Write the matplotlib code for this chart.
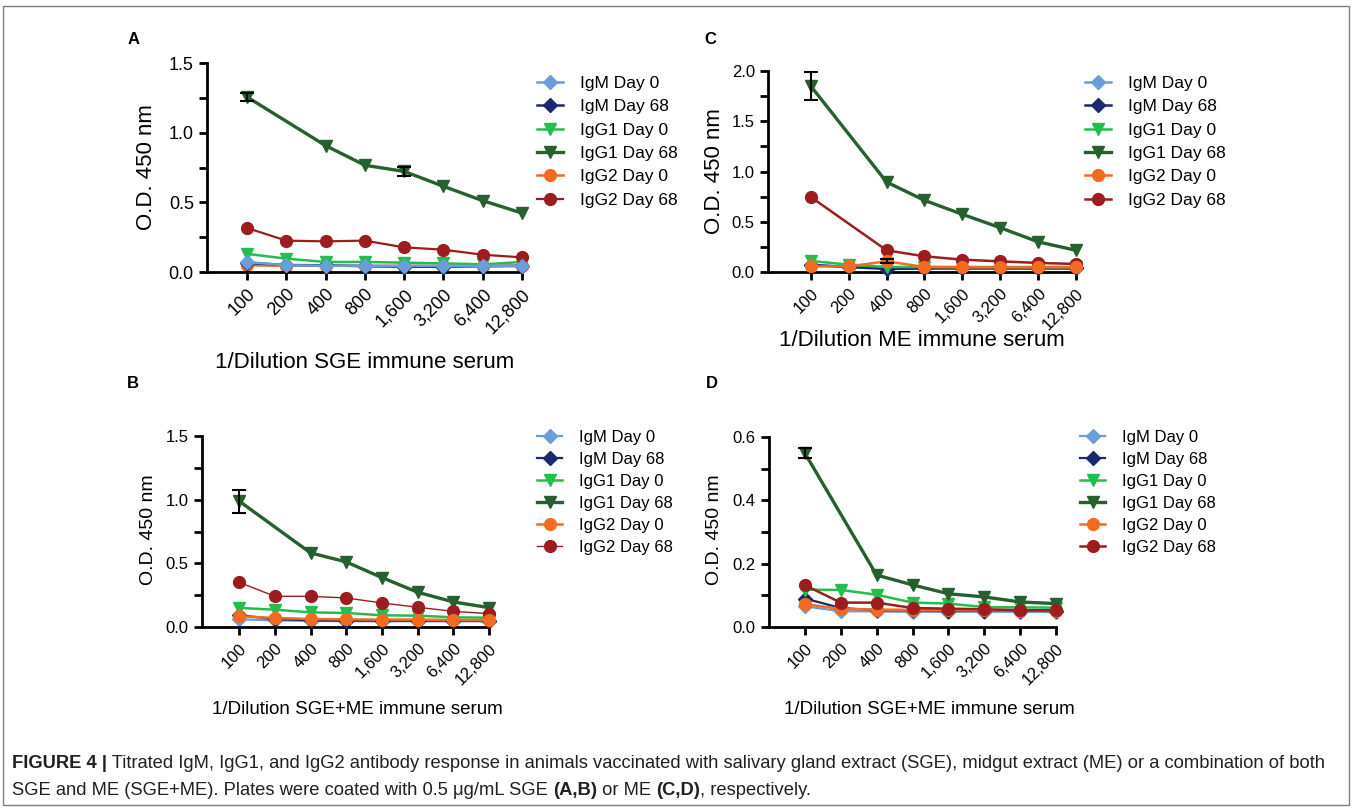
import numpy as np
import matplotlib.pyplot as plt
from matplotlib.ticker import MultipleLocator, FormatStrFormatter, NullLocator
from matplotlib.patches import Rectangle

plt.rcParams['font.family'] = ['Liberation Sans', 'DejaVu Sans']

# x axis: reciprocal serum dilution
dilutions = [100, 200, 400, 800, 1600, 3200, 6400, 12800]
dilution_labels = ['100', '200', '400', '800', '1,600', '3,200', '6,400', '12,800']
series_names = ['IgM Day 0', 'IgM Day 68', 'IgG1 Day 0', 'IgG1 Day 68', 'IgG2 Day 0', 'IgG2 Day 68']
nan = np.nan

# panel A - SGE immune serum, SGE coat
a_igm_d0 = [0.072, 0.048, 0.045, 0.045, 0.044, 0.044, 0.043, 0.043]
a_igm_d68 = [0.065, 0.050, 0.048, 0.042, 0.038, 0.038, 0.042, 0.045]
a_igg1_d0 = [0.130, 0.096, 0.072, 0.072, 0.067, 0.062, 0.055, 0.072]
a_igg1_d68 = [1.256, nan, 0.907, 0.766, 0.722, 0.615, 0.512, 0.423]
a_igg1_d68_err = [0.03, 0, 0, 0, 0.03, 0, 0, 0]
a_igg2_d0 = [0.048, 0.045, 0.045, 0.044, 0.044, 0.044, 0.043, 0.043]
a_igg2_d68 = [0.316, 0.225, 0.220, 0.225, 0.177, 0.160, 0.124, 0.105]

# panel C - ME immune serum, ME coat
c_igm_d0 = [0.070, 0.050, 0.045, 0.045, 0.045, 0.045, 0.045, 0.045]
c_igm_d68 = [0.070, 0.050, 0.030, 0.035, 0.035, 0.035, 0.035, 0.035]
c_igg1_d0 = [0.110, 0.073, 0.050, 0.050, 0.050, 0.050, 0.050, 0.050]
c_igg1_d68 = [1.850, nan, 0.895, 0.713, 0.574, 0.441, 0.300, 0.216]
c_igg1_d68_err = [0.14, 0, 0, 0, 0, 0, 0, 0]
c_igg2_d0 = [0.056, 0.056, 0.106, 0.050, 0.046, 0.046, 0.046, 0.046]
c_igg2_d0_err = [0, 0, 0.02, 0, 0, 0, 0, 0]
c_igg2_d68 = [0.746, nan, 0.216, 0.156, 0.123, 0.106, 0.090, 0.080]

# panel B - SGE+ME immune serum, SGE coat
b_igm_d0 = [0.060, 0.052, 0.048, 0.046, 0.045, 0.045, 0.045, 0.045]
b_igm_d68 = [0.092, 0.063, 0.052, 0.050, 0.050, 0.050, 0.050, 0.050]
b_igg1_d0 = [0.150, 0.136, 0.115, 0.110, 0.092, 0.089, 0.076, 0.073]
b_igg1_d68 = [0.989, nan, 0.582, 0.511, 0.388, 0.273, 0.197, 0.152]
b_igg1_d68_err = [0.09, 0, 0, 0, 0, 0, 0, 0]
b_igg2_d0 = [0.084, 0.071, 0.063, 0.060, 0.058, 0.058, 0.055, 0.055]
b_igg2_d68 = [0.351, 0.241, 0.241, 0.228, 0.189, 0.155, 0.123, 0.105]

# panel D - SGE+ME immune serum, ME coat
d_igm_d0 = [0.065, 0.050, 0.049, 0.048, 0.048, 0.048, 0.048, 0.047]
d_igm_d68 = [0.090, 0.060, 0.053, 0.053, 0.052, 0.052, 0.052, 0.050]
d_igg1_d0 = [0.118, 0.117, 0.102, 0.077, 0.074, 0.063, 0.062, 0.061]
d_igg1_d68 = [0.549, nan, 0.164, 0.133, 0.105, 0.095, 0.079, 0.074]
d_igg1_d68_err = [0.016, 0, 0, 0, 0, 0, 0, 0]
d_igg2_d0 = [0.072, 0.057, 0.055, 0.054, 0.054, 0.053, 0.052, 0.052]
d_igg2_d68 = [0.132, 0.077, 0.077, 0.060, 0.058, 0.056, 0.053, 0.053]

colors = ['#6A9DDA', '#1B2870', '#22BE4E', '#25602E', '#F26B21', '#9C1C1F']
markers = ['D', 'D', 'v', 'v', 'o', 'o']
msizes = [7, 7, 8.5, 8.5, 8.5, 8.5]

W, H = 1352, 808
fig = plt.figure(figsize=(W / 100, H / 100), dpi=100)


def fx(px):
    return px / W


def fy(py):
    return 1 - py / H


def panel(box, values, errs, ymax, ymaj, ymin, xgap, tick_fs, ylab_fs, xlab_fs, xlabel, xlab_xy,
          ylab_xy, leg_xy, leg_fs, leg_sp, lws, zorders):
    left, top, right, bottom = box
    ax = fig.add_axes([fx(left), fy(bottom), (right - left) / W, (bottom - top) / H])
    x = np.array(dilutions, dtype=float)
    handles = []
    for i, vals in enumerate(values):
        y = np.array(vals, dtype=float)
        ok = np.isfinite(y)
        ln, = ax.plot(x[ok], y[ok], color=colors[i], marker=markers[i], ms=msizes[i],
                      lw=lws[i], clip_on=False, zorder=zorders[i], label=series_names[i])
        handles.append(ln)
        if errs[i] is not None:
            e = np.array(errs[i], dtype=float)
            sel = e > 0
            ax.errorbar(x[sel], y[sel], yerr=e[sel], fmt='none', ecolor='black',
                        elinewidth=1.5, capsize=5, capthick=1.5, zorder=zorders[i] + 1,
                        clip_on=False)
    ax.set_xscale('log', base=2)
    ax.set_xlim(100 / 2 ** xgap, 12800)
    ax.set_ylim(0, ymax)
    ax.set_xticks(dilutions, dilution_labels, rotation=45, ha='right', rotation_mode='anchor')
    ax.xaxis.set_minor_locator(NullLocator())
    ax.yaxis.set_major_locator(MultipleLocator(ymaj))
    ax.yaxis.set_minor_locator(MultipleLocator(ymin))
    ax.yaxis.set_major_formatter(FormatStrFormatter('%.1f'))
    for s in ['top', 'right']:
        ax.spines[s].set_visible(False)
    for s in ['left', 'bottom']:
        ax.spines[s].set_linewidth(2)
    ax.tick_params(which='major', length=6, width=2, labelsize=tick_fs, color='black')
    ax.tick_params(which='minor', length=6, width=2)
    ax.tick_params(axis='x', pad=4)
    ax.set_xlabel(xlabel, fontsize=xlab_fs)
    ax.xaxis.set_label_coords(*xlab_xy)
    ax.set_ylabel('O.D. 450 nm', fontsize=ylab_fs)
    ax.yaxis.set_label_coords(*ylab_xy)
    ax.legend(handles, series_names, loc='upper left', bbox_to_anchor=(fx(leg_xy[0]), fy(leg_xy[1])),
              bbox_transform=fig.transFigure, frameon=False, fontsize=leg_fs, handlelength=1.5,
              handletextpad=1.0, labelspacing=leg_sp, borderpad=0, borderaxespad=0, numpoints=1)
    return ax


panel((207, 63, 522, 272),
      [a_igm_d0, a_igm_d68, a_igg1_d0, a_igg1_d68, a_igg2_d0, a_igg2_d68],
      [None, None, None, a_igg1_d68_err, None, None],
      1.5, 0.5, 0.25, 1.02, 13, 16, 16, '1/Dilution SGE immune serum', (0.5, -0.385), (-0.16, 0.5),
      (537, 76), 12.5, 0.47, [1.8, 1.8, 1.8, 2.4, 1.8, 1.6], [8, 3, 4, 5, 2, 6])

panel((768, 71, 1076, 272),
      [c_igm_d0, c_igm_d68, c_igg1_d0, c_igg1_d68, c_igg2_d0, c_igg2_d68],
      [None, None, None, c_igg1_d68_err, c_igg2_d0_err, None],
      2.0, 0.5, 0.25, 1.13, 12, 16, 16, '1/Dilution ME immune serum', (0.5, -0.29), (-0.14, 0.5),
      (1085, 76), 12.5, 0.47, [1.8, 1.8, 1.8, 2.4, 1.8, 1.8], [2, 3, 4, 5, 8, 6])

panel((202, 436, 489, 627),
      [b_igm_d0, b_igm_d68, b_igg1_d0, b_igg1_d68, b_igg2_d0, b_igg2_d68],
      [None, None, None, b_igg1_d68_err, None, None],
      1.5, 0.5, 0.25, 1.04, 12, 14, 13.5, '1/Dilution SGE+ME immune serum', (0.54, -0.39), (-0.157, 0.51),
      (537, 430), 12, 0.42, [1.6, 1.6, 1.8, 2.4, 1.8, 1.0], [2, 3, 4, 5, 8, 6])

panel((769, 437, 1056, 627),
      [d_igm_d0, d_igm_d68, d_igg1_d0, d_igg1_d68, d_igg2_d0, d_igg2_d68],
      [None, None, None, d_igg1_d68_err, None, None],
      0.6, 0.2, 0.1, 1.0, 12, 14, 13.5, '1/Dilution SGE+ME immune serum', (0.56, -0.39), (-0.16, 0.51),
      (1080, 430), 12, 0.42, [1.6, 1.6, 1.8, 2.4, 1.8, 1.8], [2, 3, 4, 5, 6, 8])

# panel letters
for letter, (px, py) in zip('ACBD', [(134, 40), (710, 40), (133, 383), (712, 383)]):
    fig.text(fx(px), fy(py), letter, fontsize=12, fontweight='bold', ha='center', va='center')

# frame around figure and caption
fig.patches.append(Rectangle((fx(3), fy(805)), fx(1349) - fx(3), fy(6) - fy(805),
                             transform=fig.transFigure, fill=False, edgecolor='#7f7f7f', lw=1))

# caption with bold runs
renderer = fig.canvas.get_renderer()
cap_fs = 13.2
cap_color = '#231f20'


def rich_line(x_px, y_px, parts):
    xpos = x_px
    for txt, bold in parts:
        t = fig.text(fx(xpos), fy(y_px), txt, fontsize=cap_fs, color=cap_color,
                     fontweight='bold' if bold else 'normal', va='baseline', ha='left')
        xpos += t.get_window_extent(renderer).width


rich_line(12, 768, [('FIGURE 4 |', True),
                    (' Titrated IgM, IgG1, and IgG2 antibody response in animals vaccinated with salivary '
                     'gland extract (SGE), midgut extract (ME) or a combination of both', False)])
rich_line(12, 795, [('SGE and ME (SGE+ME). Plates were coated with 0.5 \u03bcg/mL SGE ', False),
                    ('(A,B)', True), (' or ME ', False), ('(C,D)', True), (', respectively.', False)])

fig.savefig('out.png', dpi=100)
